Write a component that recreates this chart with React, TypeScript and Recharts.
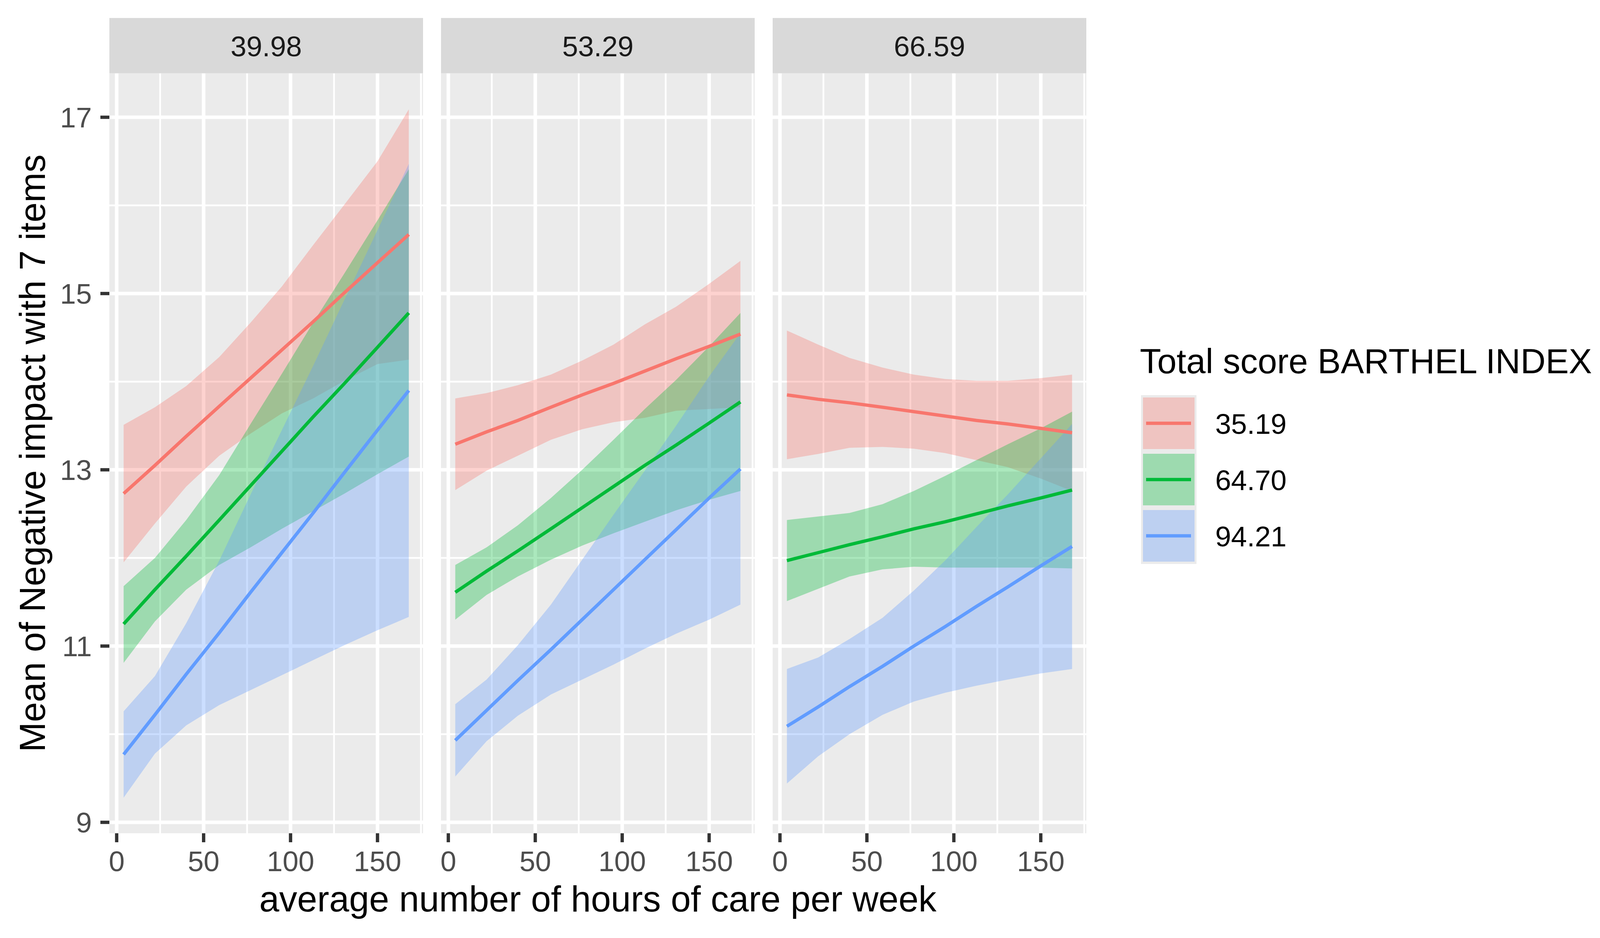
import React from 'react';
import { ComposedChart, Area, Line, XAxis, YAxis, CartesianGrid } from 'recharts';

const FONT = '"Liberation Sans", Arial, Helvetica, sans-serif';

// hours of care per week (x positions of the fitted values)
const hours = [4, 22, 40, 59, 77, 95, 113, 131, 150, 168];

// facet labels
const facets = ['39.98', '53.29', '66.59'];

// legend groups: Total score BARTHEL INDEX
const groups = ['35.19', '64.70', '94.21'];
const groupColors = ['#F8766D', '#00BA38', '#619CFF'];

// ticks
const xTicks = [0, 50, 100, 150];
const xMinor = [25, 75, 125, 175];
const yTicks = [9, 11, 13, 15, 17];
const yMinor = [10, 12, 14, 16];

// Panel 1 (39.98)
const p1RedFit = [12.73, 13.05, 13.38, 13.72, 14.04, 14.36, 14.68, 15.01, 15.35, 15.67];
const p1RedLow = [11.95, 12.39, 12.81, 13.16, 13.41, 13.64, 13.81, 14.01, 14.2, 14.25];
const p1RedHigh = [13.51, 13.71, 13.95, 14.28, 14.67, 15.08, 15.55, 16.01, 16.5, 17.09];
const p1GreenFit = [11.25, 11.64, 12.02, 12.43, 12.82, 13.21, 13.6, 13.98, 14.39, 14.78];
const p1GreenLow = [10.81, 11.28, 11.64, 11.92, 12.12, 12.33, 12.53, 12.73, 12.95, 13.15];
const p1GreenHigh = [11.68, 12.0, 12.43, 12.94, 13.52, 14.09, 14.67, 15.23, 15.83, 16.41];
const p1BlueFit = [9.77, 10.22, 10.68, 11.15, 11.61, 12.06, 12.51, 12.97, 13.45, 13.9];
const p1BlueLow = [9.28, 9.78, 10.1, 10.33, 10.5, 10.67, 10.84, 11.01, 11.18, 11.33];
const p1BlueHigh = [10.26, 10.66, 11.26, 11.97, 12.72, 13.45, 14.18, 14.93, 15.72, 16.47];

// Panel 2 (53.29)
const p2RedFit = [13.29, 13.43, 13.56, 13.71, 13.85, 13.98, 14.12, 14.26, 14.4, 14.54];
const p2RedLow = [12.77, 12.99, 13.16, 13.34, 13.46, 13.54, 13.59, 13.67, 13.69, 13.71];
const p2RedHigh = [13.81, 13.87, 13.96, 14.08, 14.24, 14.42, 14.65, 14.85, 15.11, 15.37];
const p2GreenFit = [11.61, 11.85, 12.08, 12.33, 12.57, 12.81, 13.05, 13.28, 13.53, 13.77];
const p2GreenLow = [11.3, 11.58, 11.79, 11.98, 12.14, 12.28, 12.41, 12.54, 12.66, 12.76];
const p2GreenHigh = [11.92, 12.12, 12.37, 12.68, 13.0, 13.34, 13.69, 14.02, 14.4, 14.78];
const p2BlueFit = [9.93, 10.27, 10.61, 10.96, 11.3, 11.64, 11.98, 12.32, 12.68, 13.01];
const p2BlueLow = [9.52, 9.92, 10.21, 10.45, 10.62, 10.79, 10.97, 11.14, 11.3, 11.47];
const p2BlueHigh = [10.34, 10.62, 11.01, 11.47, 11.98, 12.49, 12.99, 13.5, 14.06, 14.55];

// Panel 3 (66.59)
const p3RedFit = [13.85, 13.8, 13.76, 13.71, 13.66, 13.61, 13.56, 13.52, 13.47, 13.42];
const p3RedLow = [13.12, 13.18, 13.25, 13.26, 13.24, 13.19, 13.11, 13.03, 12.9, 12.76];
const p3RedHigh = [14.58, 14.42, 14.27, 14.16, 14.08, 14.03, 14.01, 14.01, 14.04, 14.08];
const p3GreenFit = [11.97, 12.06, 12.15, 12.24, 12.33, 12.41, 12.5, 12.59, 12.68, 12.77];
const p3GreenLow = [11.51, 11.65, 11.79, 11.87, 11.9, 11.89, 11.89, 11.89, 11.89, 11.88];
const p3GreenHigh = [12.43, 12.47, 12.51, 12.61, 12.76, 12.93, 13.11, 13.29, 13.47, 13.66];
const p3BlueFit = [10.09, 10.31, 10.54, 10.77, 11.0, 11.22, 11.45, 11.67, 11.91, 12.13];
const p3BlueLow = [9.44, 9.75, 10.0, 10.22, 10.37, 10.47, 10.55, 10.62, 10.69, 10.74];
const p3BlueHigh = [10.74, 10.87, 11.08, 11.32, 11.63, 11.97, 12.35, 12.72, 13.13, 13.52];

type Series = { fit: number[]; low: number[]; high: number[] };

function buildRows(red: Series, green: Series, blue: Series) {
  return hours.map((h, i) => ({
    hours: h,
    redFit: red.fit[i],
    redBand: [red.low[i], red.high[i]],
    greenFit: green.fit[i],
    greenBand: [green.low[i], green.high[i]],
    blueFit: blue.fit[i],
    blueBand: [blue.low[i], blue.high[i]],
  }));
}

const panelData = [
  buildRows(
    { fit: p1RedFit, low: p1RedLow, high: p1RedHigh },
    { fit: p1GreenFit, low: p1GreenLow, high: p1GreenHigh },
    { fit: p1BlueFit, low: p1BlueLow, high: p1BlueHigh }
  ),
  buildRows(
    { fit: p2RedFit, low: p2RedLow, high: p2RedHigh },
    { fit: p2GreenFit, low: p2GreenLow, high: p2GreenHigh },
    { fit: p2BlueFit, low: p2BlueLow, high: p2BlueHigh }
  ),
  buildRows(
    { fit: p3RedFit, low: p3RedLow, high: p3RedHigh },
    { fit: p3GreenFit, low: p3GreenLow, high: p3GreenHigh },
    { fit: p3BlueFit, low: p3BlueLow, high: p3BlueHigh }
  ),
];

const X_DOMAIN: [number, number] = [-4.2, 176.2];
const Y_DOMAIN: [number, number] = [8.876, 17.499];

const PANEL_LEFTS = [280, 1129, 1978];
const PANEL_W = 803;
const PANEL_TOP = 187.5;
const PANEL_BOTTOM = 2132;
const H = 2400;
const Y_AXIS_W = 280;
const SIDE_PAD = 40;
const RIBBON_ALPHA = 0.33;
const LINE_W = 8.5;

function Panel({ idx }: { idx: number }) {
  const showY = idx === 0;
  const leftSpace = showY ? Y_AXIS_W : SIDE_PAD;
  const left = PANEL_LEFTS[idx] - leftSpace;
  const width = PANEL_W + leftSpace + SIDE_PAD;
  const data = panelData[idx];
  const keys = ['red', 'green', 'blue'];
  return (
    <div style={{ position: 'absolute', left, top: 0, width, height: H }}>
      <ComposedChart
        width={width}
        height={H}
        data={data}
        margin={{
          top: PANEL_TOP,
          right: SIDE_PAD,
          bottom: H - PANEL_BOTTOM - 150,
          left: showY ? 0 : SIDE_PAD,
        }}
      >
        <CartesianGrid
          fill="#EBEBEB"
          stroke="#FFFFFF"
          strokeWidth={4.5}
          horizontalValues={yMinor}
          verticalValues={xMinor}
        />
        <CartesianGrid
          stroke="#FFFFFF"
          strokeWidth={9}
          horizontalValues={yTicks}
          verticalValues={xTicks}
        />
        <XAxis
          dataKey="hours"
          type="number"
          domain={X_DOMAIN}
          ticks={xTicks}
          allowDataOverflow
          height={150}
          axisLine={false}
          tickSize={23}
          tickMargin={22}
          tickLine={{ stroke: '#333333', strokeWidth: 8.5 }}
          tick={{ fontSize: 73, fill: '#4D4D4D', fontFamily: FONT }}
          interval={0}
        />
        <YAxis
          type="number"
          domain={Y_DOMAIN}
          ticks={yTicks}
          allowDataOverflow
          hide={!showY}
          width={Y_AXIS_W}
          axisLine={false}
          tickSize={23}
          tickMargin={22}
          tickLine={{ stroke: '#333333', strokeWidth: 8.5 }}
          tick={{ fontSize: 73, fill: '#4D4D4D', fontFamily: FONT }}
          interval={0}
        />
        {keys.map((k, i) => (
          <Area
            key={k + 'Band'}
            type="linear"
            dataKey={k + 'Band'}
            fill={groupColors[i]}
            fillOpacity={RIBBON_ALPHA}
            stroke="none"
            dot={false}
            activeDot={false}
            isAnimationActive={false}
          />
        ))}
        {keys.map((k, i) => (
          <Line
            key={k + 'Fit'}
            type="linear"
            dataKey={k + 'Fit'}
            stroke={groupColors[i]}
            strokeWidth={LINE_W}
            dot={false}
            activeDot={false}
            isAnimationActive={false}
          />
        ))}
      </ComposedChart>
    </div>
  );
}

function Overlay() {
  const keyTop = 1011;
  const keyH = 144;
  return (
    <svg
      width={4200}
      height={2400}
      style={{ position: 'absolute', left: 0, top: 0, pointerEvents: 'none' }}
    >
      {facets.map((f, i) => (
        <g key={f}>
          <rect x={PANEL_LEFTS[i]} y={46} width={PANEL_W} height={PANEL_TOP - 46} fill="#D9D9D9" />
          <text
            x={PANEL_LEFTS[i] + PANEL_W / 2}
            y={144}
            textAnchor="middle"
            fontSize={73}
            fill="#1A1A1A"
            fontFamily={FONT}
          >
            {f}
          </text>
        </g>
      ))}
      <text
        x={(PANEL_LEFTS[0] + PANEL_LEFTS[2] + PANEL_W) / 2}
        y={2332}
        textAnchor="middle"
        fontSize={92}
        fill="#000000"
        fontFamily={FONT}
      >
        average number of hours of care per week
      </text>
      <text
        transform={`translate(115, ${(PANEL_TOP + PANEL_BOTTOM) / 2}) rotate(-90)`}
        textAnchor="middle"
        fontSize={92}
        fill="#000000"
        fontFamily={FONT}
      >
        Mean of Negative impact with 7 items
      </text>
      <text x={2918} y={955} fontSize={89} fill="#000000" fontFamily={FONT}>
        Total score BARTHEL INDEX
      </text>
      <rect x={2921} y={keyTop} width={142} height={keyH * 3} fill="#EBEBEB" />
      {groups.map((g, i) => {
        const y0 = keyTop + i * keyH;
        return (
          <g key={g}>
            <rect
              x={2926}
              y={y0 + 6}
              width={132}
              height={keyH - 12}
              fill={groupColors[i]}
              fillOpacity={RIBBON_ALPHA}
            />
            <line
              x1={2934}
              x2={3049}
              y1={y0 + keyH / 2}
              y2={y0 + keyH / 2}
              stroke={groupColors[i]}
              strokeWidth={LINE_W}
            />
            <text
              x={3111}
              y={y0 + keyH / 2 + 27}
              fontSize={73}
              fill="#000000"
              fontFamily={FONT}
            >
              {g}
            </text>
          </g>
        );
      })}
    </svg>
  );
}

export default function App() {
  return (
    <div
      style={{
        position: 'absolute',
        left: 0,
        top: 0,
        width: 4200,
        height: 2400,
        background: '#FFFFFF',
        overflow: 'hidden',
      }}
    >
      {[0, 1, 2].map((i) => (
        <Panel key={i} idx={i} />
      ))}
      <Overlay />
    </div>
  );
}
